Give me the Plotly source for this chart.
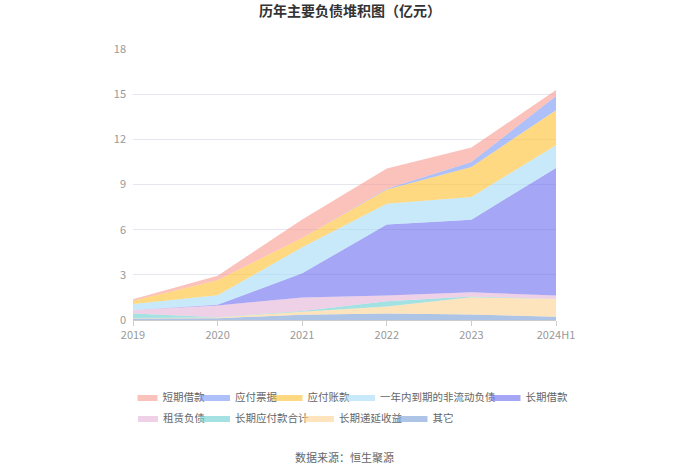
import plotly.graph_objects as go

years = ["2019", "2020", "2021", "2022", "2023", "2024H1"]

# series (bottom of stack first)
qita = [0.10, 0.12, 0.35, 0.44, 0.36, 0.22]            # 其它
diyan = [0.03, 0.05, 0.20, 0.45, 1.15, 1.18]           # 长期递延收益
changqi_yingfu = [0.31, 0.02, 0.05, 0.35, 0.05, 0.00]  # 长期应付款合计
zulin = [0.23, 0.78, 0.90, 0.38, 0.28, 0.22]           # 租赁负债
changqi_jiekuan = [0.00, 0.05, 1.60, 4.73, 4.82, 8.48] # 长期借款
yinian = [0.40, 0.62, 1.73, 1.37, 1.51, 1.51]          # 一年内到期的非流动负债
yingfu_zhangkuan = [0.21, 1.00, 0.62, 0.94, 2.00, 2.33]# 应付账款
yingfu_piaoju = [0.00, 0.00, 0.00, 0.05, 0.33, 0.93]   # 应付票据
duanqi = [0.10, 0.30, 1.23, 1.35, 0.95, 0.40]          # 短期借款

y_ticks = [0, 3, 6, 9, 12, 15, 18]

series = [
    ("其它", qita, "123,159,214", "legend2", 4),
    ("长期递延收益", diyan, "253,212,148", "legend2", 3),
    ("长期应付款合计", changqi_yingfu, "108,207,209", "legend2", 2),
    ("租赁负债", zulin, "228,179,217", "legend2", 1),
    ("长期借款", changqi_jiekuan, "111,111,240", "legend", 5),
    ("一年内到期的非流动负债", yinian, "165,220,247", "legend", 4),
    ("应付账款", yingfu_zhangkuan, "255,194,51", "legend", 3),
    ("应付票据", yingfu_piaoju, "123,154,245", "legend", 2),
    ("短期借款", duanqi, "249,155,145", "legend", 1),
]

fig = go.Figure()
for name, vals, rgb, lg, rank in series:
    fig.add_trace(go.Scatter(
        x=years, y=vals, name=name, mode="lines",
        stackgroup="one", line=dict(width=0, color=f"rgb({rgb})"),
        fillcolor=f"rgba({rgb},0.62)", legend=lg, legendrank=rank,
        hoverinfo="x+y+name",
    ))

FONT = "Noto Sans CJK SC"
leg_common = dict(orientation="h", yanchor="middle",
                  font=dict(size=10.5, color="#666666"), itemwidth=30, indentation=-15,
                  traceorder="normal", tracegroupgap=0, bgcolor="rgba(0,0,0,0)")
fig.update_layout(
    width=700, height=474,
    margin=dict(l=133, r=144, t=49, b=154, autoexpand=False),
    paper_bgcolor="white", plot_bgcolor="white",
    font=dict(family=FONT, size=11, color="#999999"),
    title=dict(text="<b>历年主要负债堆积图（亿元）</b>", x=0.5, xanchor="center",
               y=1 - 11 / 474, yanchor="middle", font=dict(family=FONT, size=14, color="#333333")),
    xaxis=dict(type="category", range=[0, 5], showgrid=False, showline=True,
               linecolor="#cccccc", linewidth=1, ticks="outside", ticklen=5,
               tickcolor="#cccccc", tickfont=dict(size=11, color="#999999"), zeroline=False),
    yaxis=dict(range=[0, 18], tickvals=y_ticks, showgrid=True, gridcolor="#e6e6ee",
               gridwidth=1, showline=False, zeroline=False, ticks="",
               tickfont=dict(size=11, color="#999999"), ticklabelstandoff=6),
    legend=dict(y=-77 / 271, x=1.0414, xanchor="right", **leg_common),
    legend2=dict(y=-98 / 271, x=5 / 423, xanchor="left", **leg_common),
    annotations=[dict(text="数据来源：恒生聚源", xref="paper", yref="paper",
                      x=0.5, y=-137 / 271, xanchor="center", yanchor="middle",
                      showarrow=False, font=dict(size=11, color="#666666"))],
    showlegend=True,
)

fig.write_html("out.html", config={"displayModeBar": False},
               post_script="document.body.style.margin='0';")
